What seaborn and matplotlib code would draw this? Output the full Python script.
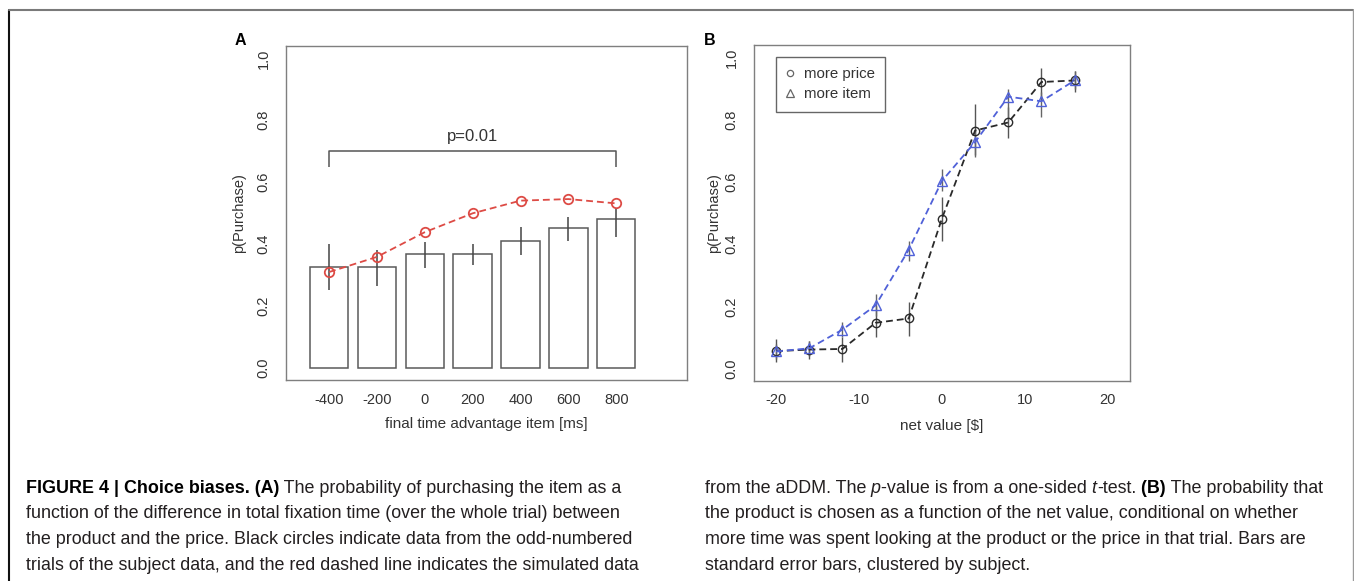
import matplotlib
matplotlib.use("Agg")
import matplotlib.pyplot as plt
from matplotlib.lines import Line2D
from matplotlib.ticker import FormatStrFormatter
import numpy as np
import pandas as pd
import seaborn as sns

# ---- Panel A: purchase probability vs. final fixation-time advantage ----
time_adv = ["-400", "-200", "0", "200", "400", "600", "800"]
p_obs = [0.326, 0.325, 0.366, 0.367, 0.410, 0.450, 0.482]
p_obs_lo = [0.250, 0.263, 0.322, 0.333, 0.365, 0.411, 0.422]
p_obs_hi = [0.400, 0.381, 0.406, 0.401, 0.454, 0.488, 0.515]
p_sim = [0.309, 0.358, 0.438, 0.499, 0.540, 0.545, 0.531]
p_text = "p=0.01"
bracket_top, bracket_foot = 0.70, 0.65

# ---- Panel B: purchase probability vs. net value ----
net_value = [-20, -16, -12, -8, -4, 0, 4, 8, 12, 16]
p_price = [0.056, 0.061, 0.063, 0.147, 0.161, 0.482, 0.765, 0.791, 0.921, 0.926]
p_price_lo = [0.020, 0.030, 0.020, 0.100, 0.105, 0.410, 0.685, 0.740, 0.870, 0.890]
p_price_hi = [0.095, 0.090, 0.100, 0.200, 0.215, 0.550, 0.850, 0.840, 0.965, 0.955]
p_item = [0.055, 0.065, 0.125, 0.203, 0.382, 0.603, 0.728, 0.874, 0.859, 0.926]
p_item_lo = [0.030, 0.040, 0.100, 0.170, 0.345, 0.570, 0.680, 0.800, 0.810, 0.900]
p_item_hi = [0.080, 0.090, 0.150, 0.240, 0.410, 0.640, 0.770, 0.900, 0.890, 0.955]
series_names = ["more price", "more item"]

caption_left = [
    [("FIGURE 4 | Choice biases. (A)", "bold", "normal"),
     (" The probability of purchasing the item as a", "normal", "normal")],
    [("function of the difference in total fixation time (over the whole trial) between", "normal", "normal")],
    [("the product and the price. Black circles indicate data from the odd-numbered", "normal", "normal")],
    [("trials of the subject data, and the red dashed line indicates the simulated data", "normal", "normal")],
]
caption_right = [
    [("from the aDDM. The", "normal", "normal"), (" p", "normal", "italic"),
     ("-value is from a one-sided", "normal", "normal"), (" t", "normal", "italic"),
     ("-test.", "normal", "normal"), (" (B)", "bold", "normal"),
     (" The probability that", "normal", "normal")],
    [("the product is chosen as a function of the net value, conditional on whether", "normal", "normal")],
    [("more time was spent looking at the product or the price in that trial. Bars are", "normal", "normal")],
    [("standard error bars, clustered by subject.", "normal", "normal")],
]

sns.set_theme(style="white")
plt.rcParams["font.family"] = ["Liberation Sans", "DejaVu Sans"]
plt.rcParams["axes.unicode_minus"] = False

W, H = 1354, 581
fig = plt.figure(figsize=(W / 100, H / 100), dpi=100)
fig.patch.set_facecolor("white")

RED = "#dd4b45"
BLUE = "#5061d8"
DARK = "#2a2a2a"
FRAME_GRAY = "#7f7f7f"
TXT = "#333333"


def px_axes(left, top, right, bottom):
    return fig.add_axes([left / W, 1 - bottom / H, (right - left) / W, (bottom - top) / H])


def style_axes(ax):
    for sp in ax.spines.values():
        sp.set_visible(True)
        sp.set_color(FRAME_GRAY)
        sp.set_linewidth(1.0)
    ax.tick_params(axis="both", direction="out", length=5, width=0.8, color=FRAME_GRAY,
                   labelsize=10.5, labelcolor=TXT)
    ax.tick_params(axis="x", pad=4)
    ax.tick_params(axis="y", pad=6)
    ax.set_ylim(-0.04, 1.04)
    ax.set_yticks([0.0, 0.2, 0.4, 0.6, 0.8, 1.0])
    ax.yaxis.set_major_formatter(FormatStrFormatter("%.1f"))
    for lab in ax.get_yticklabels():
        lab.set_rotation(90)
        lab.set_va("center")
        lab.set_ha("right")
    ax.grid(False)
    ax.set_facecolor("white")


# ---------------- Panel A ----------------
axA = px_axes(285.7, 46, 686.7, 380)
df_a = pd.DataFrame({"adv": time_adv, "p": p_obs})
sns.barplot(data=df_a, x="adv", y="p", order=time_adv, color="white", saturation=1,
            edgecolor="#5a5a5a", linewidth=1.1, width=0.8, errorbar=None, ax=axA)
pos_a = np.arange(len(time_adv))
axA.vlines(pos_a, p_obs_lo, p_obs_hi, color="#444444", linewidth=1.1, zorder=3)
sns.pointplot(x=time_adv, y=p_sim, order=time_adv, color=RED, linestyles="--",
              markers="o", errorbar=None, markersize=6.8, markerfacecolor="none",
              markeredgecolor=RED, markeredgewidth=1.3, linewidth=1.3, ax=axA, zorder=4)
for ln in axA.lines:
    ln.set_dashes((3.8, 2.2))

# significance bracket between the first and last bins
x0, x1 = pos_a[0], pos_a[-1]
axA.plot([x0, x0, x1, x1], [bracket_foot, bracket_top, bracket_top, bracket_foot],
         color="#555555", linewidth=1.1, solid_capstyle="butt")
axA.text((x0 + x1) / 2, bracket_top + 0.047, p_text, ha="center", va="center",
         fontsize=12, color=TXT)

axA.set_xlim(-0.904, 7.47)
style_axes(axA)
axA.set_xlabel("final time advantage item [ms]", fontsize=11, color=TXT)
axA.set_ylabel("p(Purchase)", fontsize=10.5, color=TXT)
axA.yaxis.set_label_coords(-0.100, 0.5)
axA.xaxis.set_label_coords(0.5, -0.112)

# ---------------- Panel B ----------------
axB = px_axes(754, 45, 1129.5, 381)
axB.vlines(net_value, p_price_lo, p_price_hi, color="#555555", linewidth=1.0, zorder=2)
axB.vlines(net_value, p_item_lo, p_item_hi, color="#666666", linewidth=1.0, zorder=2)
sns.lineplot(x=net_value, y=p_price, color=DARK, marker="o", markersize=6,
             markerfacecolor="none", markeredgecolor=DARK, markeredgewidth=1.0,
             linewidth=1.3, linestyle=(0, (3.8, 2.2)), errorbar=None, ax=axB, zorder=3)
sns.lineplot(x=net_value, y=p_item, color=BLUE, marker="^", markersize=7,
             markerfacecolor="none", markeredgecolor=BLUE, markeredgewidth=1.0,
             linewidth=1.3, linestyle=(0, (3.8, 2.2)), errorbar=None, ax=axB, zorder=3)
axB.set_xlim(-22.66, 22.62)
axB.set_xticks([-20, -10, 0, 10, 20])
style_axes(axB)
axB.set_xlabel("net value [$]", fontsize=11, color=TXT)
axB.set_ylabel("p(Purchase)", fontsize=10.5, color=TXT)
axB.yaxis.set_label_coords(-0.089, 0.5)
axB.xaxis.set_label_coords(0.5, -0.112)

handles = [
    Line2D([], [], linestyle="none", marker="o", markersize=4.5, markerfacecolor="none",
           markeredgecolor="#666666", markeredgewidth=0.9),
    Line2D([], [], linestyle="none", marker="^", markersize=5.5, markerfacecolor="none",
           markeredgecolor="#666666", markeredgewidth=0.9),
]
leg = axB.legend(handles, series_names, loc="upper left", bbox_to_anchor=(0.058, 0.965),
                 borderaxespad=0, frameon=True, fancybox=False, edgecolor="#666666",
                 handlelength=0.55, handletextpad=0.6, borderpad=0.7, labelspacing=0.4,
                 fontsize=10.8, framealpha=1)
leg.get_frame().set_linewidth(1.0)
for t in leg.get_texts():
    t.set_color(TXT)

# panel letters
fig.text(240 / W, 1 - 40.5 / H, "A", fontsize=11.5, fontweight="bold", ha="center",
         va="center", color="black")
fig.text(710 / W, 1 - 40.5 / H, "B", fontsize=11.5, fontweight="bold", ha="center",
         va="center", color="black")

# ---------------- caption ----------------
renderer = fig.canvas.get_renderer()


def draw_runs(x_px, base_px, runs, size=12.9):
    x = x_px
    for text, weight, style in runs:
        t = fig.text(x / W, 1 - base_px / H, text, fontsize=size, fontweight=weight,
                     fontstyle=style, ha="left", va="baseline",
                     color="black" if weight == "bold" else "#231f20")
        bb = t.get_window_extent(renderer)
        x = bb.x1


line_gap = 25.5
first_base = 493
for i, runs in enumerate(caption_left):
    draw_runs(26, first_base + i * line_gap, runs)
for i, runs in enumerate(caption_right):
    draw_runs(705, first_base + i * line_gap, runs)

# page frame
fig.add_artist(Line2D([8.5 / W, 8.5 / W], [0, 1 - 10 / H], transform=fig.transFigure,
                      color="#111111", linewidth=1.5))
fig.add_artist(Line2D([8.5 / W, 1352.5 / W], [1 - 10 / H, 1 - 10 / H],
                      transform=fig.transFigure, color="#7a7a7a", linewidth=1.5))
fig.add_artist(Line2D([1352.5 / W, 1352.5 / W], [0, 1 - 10 / H], transform=fig.transFigure,
                      color="#9a9a9a", linewidth=1.0))

fig.savefig("out.png", dpi=100, facecolor="white")
